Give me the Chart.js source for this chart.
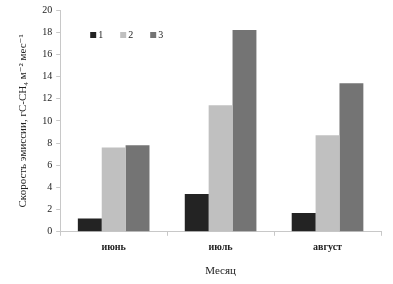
<!DOCTYPE html>
<html>
<head>
<meta charset="utf-8">
<script src="https://cdn.jsdelivr.net/npm/chart.js@4.4.0/dist/chart.umd.min.js"></script>
<style>
  html, body { margin: 0; padding: 0; background: #fff; }
  #wrap { width: 393px; height: 284px; }
</style>
</head>
<body>
<div id="wrap"><canvas id="chart" width="393" height="284"></canvas></div>
<script>
// Chart data
var months = ['июнь', 'июль', 'август'];
var series1 = [1.2, 3.4, 1.7];
var series2 = [7.6, 11.4, 8.7];
var series3 = [7.8, 18.2, 13.4];
var seriesNames = ['1', '2', '3'];
var seriesColors = ['#232323', '#c0c0c0', '#747474'];

var serif = '"Liberation Serif", "DejaVu Serif", serif';
var axisColor = '#c8c8c8';

// Legend drawn inside the plot area, top left
var innerLegend = {
  id: 'innerLegend',
  afterDraw: function (chart) {
    var c = chart.ctx;
    var a = chart.chartArea;
    c.save();
    c.font = '10px ' + serif;
    c.textBaseline = 'middle';
    seriesNames.forEach(function (name, i) {
      var x = a.left + 30 + i * 30;
      var y = a.top + 25;
      c.fillStyle = seriesColors[i];
      c.fillRect(x, y - 3, 6, 6);
      c.fillStyle = '#222';
      c.fillText(name, x + 8, y);
    });
    c.restore();
  }
};

var data = {
  labels: months,
  datasets: [
    { label: seriesNames[0], data: series1, backgroundColor: seriesColors[0] },
    { label: seriesNames[1], data: series2, backgroundColor: seriesColors[1] },
    { label: seriesNames[2], data: series3, backgroundColor: seriesColors[2] }
  ]
};

var config = {
  type: 'bar',
  data: data,
  options: {
    responsive: false,
    animation: false,
    layout: { padding: { left: 13, right: 12, top: 8, bottom: 2 } },
    datasets: {
      bar: { categoryPercentage: 0.67, barPercentage: 1.0, borderWidth: 0 }
    },
    plugins: {
      legend: { display: false },
      tooltip: { enabled: false },
      title: { display: false }
    },
    scales: {
      x: {
        grid: { display: true, drawOnChartArea: false, offset: true, color: axisColor, tickLength: 4 },
        border: { color: axisColor },
        ticks: { color: '#222', font: { family: serif, size: 10, weight: 'bold' }, padding: 6 },
        title: { display: true, text: 'Месяц', color: '#222', font: { family: serif, size: 11 }, padding: { top: 5 } }
      },
      y: {
        min: 0,
        max: 20,
        grid: { display: true, drawOnChartArea: false, color: axisColor, tickLength: 4 },
        border: { color: axisColor },
        ticks: { stepSize: 2, color: '#222', font: { family: serif, size: 10 }, padding: 4 },
        title: { display: true, text: 'Скорость эмиссии, гС-СН₄ м⁻² мес⁻¹', color: '#222', font: { family: serif, size: 11 }, padding: { bottom: 8 } }
      }
    }
  },
  plugins: [innerLegend]
};

var myChart = new Chart(document.getElementById('chart'), config);
</script>
</body>
</html>
